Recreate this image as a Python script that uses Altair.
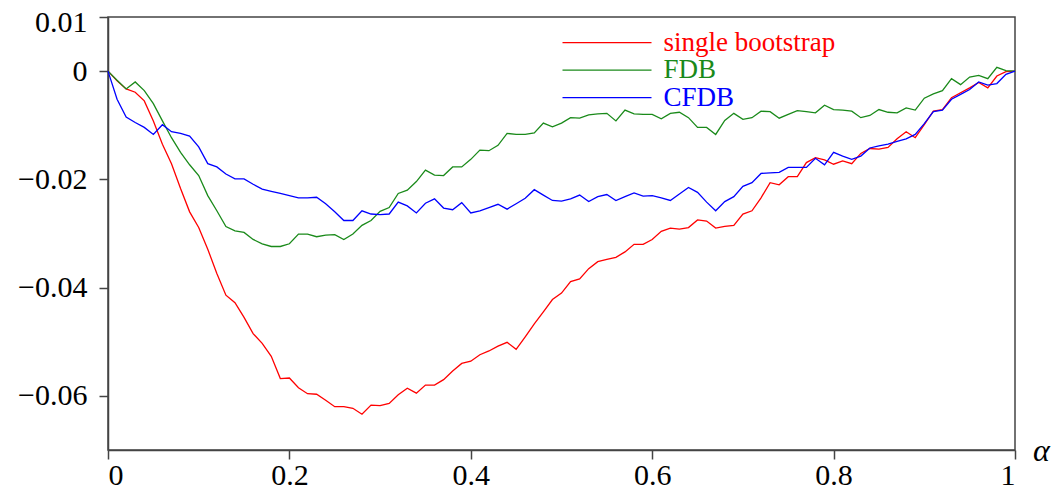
import altair as alt
import pandas as pd

alpha = [round(i * 0.01, 2) for i in range(101)]

single_bootstrap = [
    0.0, -0.0018, -0.0033, -0.0039, -0.0055, -0.0092, -0.0135, -0.0171, -0.0217, -0.0260,
    -0.0289, -0.0329, -0.0374, -0.0414, -0.0428, -0.0455, -0.0485, -0.0503, -0.0527, -0.0568,
    -0.0567, -0.0585, -0.0596, -0.0597, -0.0608, -0.0620, -0.0620, -0.0623, -0.0634, -0.0617,
    -0.0618, -0.0614, -0.0598, -0.0586, -0.0595, -0.0580, -0.0580, -0.0570, -0.0554, -0.0540,
    -0.0536, -0.0524, -0.0517, -0.0508, -0.0501, -0.0514, -0.0491, -0.0467, -0.0445, -0.0422,
    -0.0410, -0.0389, -0.0384, -0.0365, -0.0352, -0.0348, -0.0344, -0.0334, -0.0320, -0.0320,
    -0.0311, -0.0296, -0.0290, -0.0292, -0.0289, -0.0275, -0.0277, -0.0290, -0.0287, -0.0285,
    -0.0264, -0.0258, -0.0234, -0.0206, -0.0210, -0.0195, -0.0195, -0.0169, -0.0160, -0.0164,
    -0.0172, -0.0166, -0.0171, -0.0152, -0.0143, -0.0144, -0.0141, -0.0125, -0.0112, -0.0123,
    -0.0099, -0.0074, -0.0071, -0.0049, -0.0040, -0.0031, -0.0021, -0.0031, -0.0009, -0.0001,
    0.0,
]

fdb = [
    0.0, -0.0017, -0.0033, -0.0020, -0.0036, -0.0060, -0.0092, -0.0123, -0.0150, -0.0173,
    -0.0193, -0.0230, -0.0258, -0.0287, -0.0295, -0.0298, -0.0311, -0.0319, -0.0324, -0.0324,
    -0.0319, -0.0301, -0.0301, -0.0306, -0.0303, -0.0302, -0.0311, -0.0301, -0.0285, -0.0276,
    -0.0259, -0.0252, -0.0226, -0.0220, -0.0204, -0.0183, -0.0192, -0.0193, -0.0177, -0.0177,
    -0.0163, -0.0146, -0.0147, -0.0137, -0.0115, -0.0117, -0.0117, -0.0114, -0.0096, -0.0103,
    -0.0096, -0.0086, -0.0087, -0.0081, -0.0079, -0.0078, -0.0092, -0.0072, -0.0079, -0.0080,
    -0.0080, -0.0088, -0.0078, -0.0076, -0.0086, -0.0104, -0.0104, -0.0117, -0.0091, -0.0078,
    -0.0089, -0.0086, -0.0074, -0.0075, -0.0087, -0.0080, -0.0073, -0.0075, -0.0077, -0.0063,
    -0.0071, -0.0072, -0.0074, -0.0086, -0.0082, -0.0071, -0.0076, -0.0077, -0.0068, -0.0072,
    -0.0050, -0.0042, -0.0036, -0.0014, -0.0025, -0.0011, -0.0008, -0.0014, 0.0007, 0.0001,
    0.0,
]

cfdb = [
    0.0, -0.0052, -0.0085, -0.0095, -0.0104, -0.0117, -0.0099, -0.0112, -0.0115, -0.0120,
    -0.0140, -0.0171, -0.0177, -0.0190, -0.0199, -0.0199, -0.0209, -0.0218, -0.0222, -0.0226,
    -0.0230, -0.0234, -0.0234, -0.0233, -0.0245, -0.0260, -0.0276, -0.0276, -0.0258, -0.0264,
    -0.0265, -0.0264, -0.0242, -0.0249, -0.0262, -0.0244, -0.0236, -0.0253, -0.0256, -0.0243,
    -0.0262, -0.0258, -0.0252, -0.0246, -0.0255, -0.0245, -0.0235, -0.0219, -0.0229, -0.0239,
    -0.0240, -0.0236, -0.0229, -0.0241, -0.0232, -0.0228, -0.0239, -0.0232, -0.0225, -0.0231,
    -0.0230, -0.0234, -0.0239, -0.0227, -0.0215, -0.0224, -0.0242, -0.0258, -0.0241, -0.0232,
    -0.0213, -0.0206, -0.0189, -0.0188, -0.0187, -0.0178, -0.0178, -0.0178, -0.0161, -0.0173,
    -0.0150, -0.0157, -0.0163, -0.0157, -0.0142, -0.0138, -0.0135, -0.0130, -0.0125, -0.0117,
    -0.0097, -0.0075, -0.0072, -0.0052, -0.0043, -0.0034, -0.0020, -0.0026, -0.0023, -0.0006,
    0.0,
]

series_names = ["single bootstrap", "FDB", "CFDB"]
series_colors = ["#ff0000", "#1a8a1a", "#0000ff"]
x_ticks = [0, 0.2, 0.4, 0.6, 0.8, 1]
y_ticks = [-0.06, -0.04, -0.02, 0, 0.01]

rows = []
for name, vals in zip(series_names, [single_bootstrap, fdb, cfdb]):
    for a, v in zip(alpha, vals):
        rows.append({"alpha": a, "value": v, "series": name})
df = pd.DataFrame(rows)
legend_df = pd.DataFrame({"series": series_names})

FONT = "Liberation Serif"
AXIS_COLOR = "#444444"

color_scale = alt.Scale(domain=series_names, range=series_colors)

lines = (
    alt.Chart(df)
    .mark_line(strokeWidth=1.3)
    .encode(
        x=alt.X(
            "alpha:Q",
            scale=alt.Scale(domain=[0, 1], nice=False, zero=False),
            axis=alt.Axis(
                values=x_ticks,
                format=".1~f",
                labelBaseline="alphabetic",
                labelPadding=25,
                title="α",
                titleX=933,
                titleY=0,
                titleAlign="center",
                titleBaseline="middle",
                titleAngle=0,
                titleFont=FONT,
                titleFontSize=32,
                titleFontStyle="italic",
                titleFontWeight="normal",
                titleColor="black",
            ),
        ),
        y=alt.Y(
            "value:Q",
            scale=alt.Scale(domain=[-0.07, 0.01], nice=False, zero=False),
            axis=alt.Axis(
                values=y_ticks,
                format=".2~f",
                title=None,
                labelPadding=12,
                labelOffset={"condition": {"test": "datum.value > 0.005", "value": 5}, "value": 0},
            ),
        ),
        color=alt.Color("series:N", sort=series_names, scale=color_scale, legend=None),
    )
)

legend_y = alt.Y(
    "series:N",
    sort=series_names,
    scale=alt.Scale(type="point", domain=series_names, range=[25.7, 80.7], padding=0),
    axis=None,
)

legend_rules = (
    alt.Chart(legend_df)
    .mark_rule(strokeWidth=1.3)
    .encode(
        x=alt.value(454.5),
        x2=alt.value(543.5),
        y=legend_y,
        color=alt.Color("series:N", scale=color_scale, legend=None),
    )
)

legend_text = (
    alt.Chart(legend_df)
    .mark_text(align="left", baseline="middle", font=FONT, fontSize=27)
    .encode(
        x=alt.value(555.5),
        y=legend_y,
        text="series:N",
        color=alt.Color("series:N", scale=color_scale, legend=None),
    )
)

chart = (
    alt.layer(lines, legend_rules, legend_text)
    .resolve_scale(y="independent")
    .properties(
        width=907,
        height=433,
        autosize="none",
        padding={"left": 100, "top": 9, "right": 38, "bottom": 40},
    )
    .configure_axis(
        grid=False,
        domainColor=AXIS_COLOR,
        domainWidth=1.5,
        tickColor=AXIS_COLOR,
        tickWidth=1.5,
        tickSize=9,
        labelFont=FONT,
        labelFontSize=30,
        labelColor="black",
    )
    .configure_view(stroke=AXIS_COLOR, strokeWidth=1.5)
)

chart.save("out.html", embed_options={"renderer": "svg", "actions": False})
